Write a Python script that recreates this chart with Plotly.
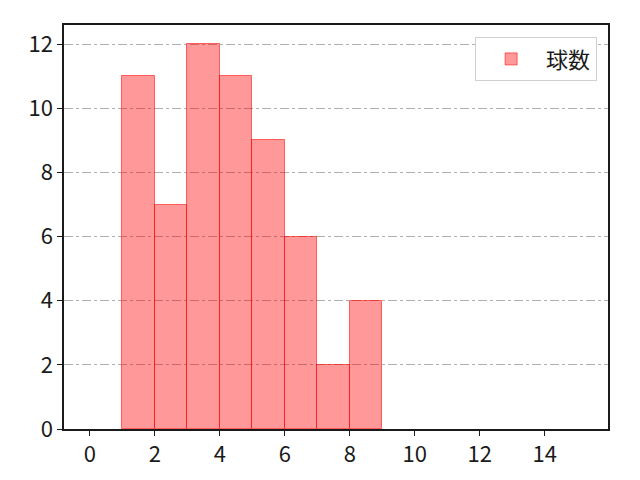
import plotly.graph_objects as go

# Histogram data (bins of width 1)
bin_starts = [1, 2, 3, 4, 5, 6, 7, 8]
counts = [11, 7, 12, 11, 9, 6, 2, 4]
series_name = "球数"
x_ticks = [0, 2, 4, 6, 8, 10, 12, 14]
y_ticks = [0, 2, 4, 6, 8, 10, 12]

fig = go.Figure()
fig.add_bar(
    x=[b + 0.5 for b in bin_starts],
    y=counts,
    width=1,
    name=series_name,
    marker=dict(color="rgba(255,0,0,0.4)",
                line=dict(color="rgba(255,0,0,0.55)", width=1)),
    showlegend=True,
)

axis_common = dict(
    showline=True, linecolor="#1a1a1a", linewidth=1.5, mirror=True,
    ticks="outside", ticklen=5, tickwidth=1.3, tickcolor="#1a1a1a",
    zeroline=False,
    tickfont=dict(size=22, color="#1a1a1a"),
)

# page body adds ~8px offset, so the figure is a bit smaller than the window
fig.update_layout(
    width=632, height=472,
    margin=dict(l=56, r=32, t=17, b=46),
    plot_bgcolor="white", paper_bgcolor="white",
    font=dict(family="Noto Sans CJK JP, DejaVu Sans", size=20, color="#1a1a1a"),
    bargap=0,
    xaxis=dict(range=[-0.8, 15.95], tickvals=x_ticks, showgrid=False, **axis_common),
    yaxis=dict(range=[0, 12.6], tickvals=y_ticks, showgrid=True,
               gridcolor="#b0b0b0", griddash="dashdot", gridwidth=0.8, **axis_common),
    legend=dict(x=0.98, y=0.97, xanchor="right", yanchor="top",
                bgcolor="white", bordercolor="#d0d0d0", borderwidth=1,
                itemwidth=60, font=dict(size=22)),
)

fig.write_html("out.html")
